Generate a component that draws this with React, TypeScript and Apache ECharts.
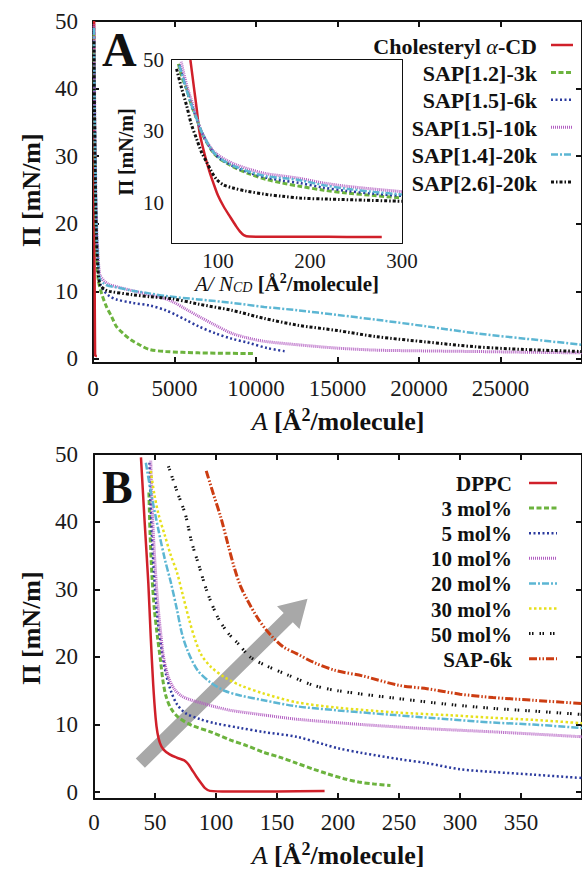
import React, { useEffect, useRef } from 'react';
import * as echarts from 'echarts';

const SERIF = 'Liberation Serif';

// ---------- tick values ----------
const aMainXTicks = [0, 5000, 10000, 15000, 20000, 25000, 30000];
const aMainXLabels = [0, 5000, 10000, 15000, 20000, 25000];
const aMainYTicks = [0, 10, 20, 30, 40, 50];
const insetXTicks = [100, 200, 300];
const insetYTicks = [10, 30, 50];
const bXTicks = [0, 50, 100, 150, 200, 250, 300, 350, 400];
const bXLabels = [0, 50, 100, 150, 200, 250, 300, 350];
const bYTicks = [0, 10, 20, 30, 40, 50];

// ---------- legend names ----------
const aNames = ['Cholesteryl α-CD', 'SAP[1.2]-3k', 'SAP[1.5]-6k', 'SAP[1.5]-10k', 'SAP[1.4]-20k', 'SAP[2.6]-20k'];
const bNames = ['DPPC', '3 mol%', '5 mol%', '10 mol%', '20 mol%', '30 mol%', '50 mol%', 'SAP-6k'];

// ---------- Panel A main: A [Å²/molecule] vs Π ----------
const aCholesteryl = [[70, 50], [74, 42], [77, 36], [80, 29.6], [86, 23], [91, 18.5], [95, 15.5], [100, 12], [106, 9], [113, 6.1], [120, 3.3], [124, 1.9], [128, 0.9], [134, 0.5], [160, 0.45], [200, 0.45], [240, 0.4], [278, 0.4]];
const aSap12_3k = [[55, 48], [90, 38], [130, 28], [180, 20], [240, 15.5], [323, 11.7], [525, 9.7], [830, 7.7], [1133, 6.3], [1436, 4.8], [1838, 3.8], [2343, 2.8], [2848, 2.1], [3454, 1.4], [4465, 1.1], [6485, 0.9], [9920, 0.8]];
const aSap15_6k = [[60, 49], [100, 38], [150, 28], [220, 19], [320, 14], [424, 11.2], [700, 10], [1000, 9.3], [1436, 8.8], [2424, 8.3], [3500, 7.9], [4465, 7.2], [5100, 6.5], [5680, 5.8], [6500, 4.8], [7500, 3.8], [8500, 3.0], [9515, 2.4], [10700, 1.6], [11900, 1.1]];
const aSap15_10k = [[60, 49.5], [100, 39], [150, 29], [220, 20], [320, 15], [424, 12.5], [700, 11.5], [1000, 11], [1436, 10.7], [2424, 10.1], [3454, 9.5], [4200, 9.1], [4860, 8.5], [5600, 7.5], [6485, 6.3], [7500, 5], [8500, 3.8], [9500, 3.1], [10530, 2.6], [12545, 2.1], [15000, 1.6], [17400, 1.3], [20000, 1.2], [23450, 1.1], [26500, 1.0], [30000, 0.9]];
const aSap14_20k = [[60, 49], [100, 38], [150, 28], [220, 19.5], [320, 14], [424, 11.8], [700, 11.1], [1000, 10.8], [1436, 10.6], [2424, 10.1], [3454, 9.7], [4465, 9.3], [6485, 8.8], [8500, 8.3], [10500, 7.7], [12545, 7.2], [15000, 6.5], [17400, 5.8], [20500, 4.8], [23450, 3.8], [26500, 3.0], [30000, 2.1]];
const aSap26_20k = [[55, 47], [90, 37], [140, 27], [200, 19], [300, 13.5], [424, 11], [700, 10.3], [1000, 10], [2424, 9.5], [3500, 9.2], [4860, 8.9], [6500, 8.1], [8500, 7.2], [10500, 6.0], [12545, 5.0], [15000, 4.2], [17400, 3.3], [20500, 2.5], [23450, 1.8], [26500, 1.4], [30000, 1.1]];

// ---------- Panel A inset: A/N_CD vs Π ----------
const inCholesteryl = [[70, 50], [74, 42], [77, 36], [80, 29.6], [86, 23], [91, 18.5], [95, 15.5], [100, 12], [106, 9], [113, 6.1], [120, 3.3], [124, 1.9], [128, 0.9], [134, 0.5], [160, 0.45], [200, 0.45], [240, 0.4], [278, 0.4]];
const inSap12_3k = [[57, 48.9], [61, 45], [66, 41.8], [71, 37.5], [77, 33.4], [82, 29.8], [88, 26.8], [95, 24], [102, 22.3], [110, 21], [120, 19.6], [135, 18], [153, 16.5], [170, 15.5], [189, 14.6], [215, 13.5], [240, 12.7], [270, 12], [300, 11.3]];
const inSap15_6k = [[58, 48.7], [62, 45], [66, 41.6], [71, 37.5], [77, 33.4], [82, 29.9], [88, 26.9], [95, 24.1], [102, 22.4], [110, 21.1], [120, 19.8], [135, 18.3], [153, 17], [170, 16.2], [189, 15.5], [215, 14.2], [240, 13.3], [270, 12.5], [300, 11.9]];
const inSap15_10k = [[60, 49.5], [63, 46], [67, 42], [72, 38], [77, 33.5], [82, 30], [88, 27], [95, 24.5], [102, 23], [110, 21.8], [120, 20.6], [135, 19.3], [153, 18.1], [170, 17.5], [189, 16.8], [215, 15.5], [240, 14.6], [270, 13.8], [300, 13.1]];
const inSap14_20k = [[58, 48.5], [62, 45], [66, 41.5], [71, 37.5], [77, 33.4], [82, 30], [88, 27], [95, 24.2], [102, 22.5], [110, 21.2], [120, 20], [135, 18.6], [153, 17.4], [170, 16.9], [189, 16.3], [215, 14.9], [240, 13.9], [270, 13], [300, 12.3]];
const inSap26_20k = [[55, 47.5], [60, 42.5], [66, 37.1], [71, 32], [77, 27.7], [82, 24.2], [88, 21.2], [93, 18.7], [98.6, 16.5], [106, 15], [116.5, 14.1], [130, 13.3], [153, 12.3], [170, 11.8], [189, 11.3], [220, 11], [260, 10.7], [300, 10.4]];

// ---------- Panel B ----------
const bDPPC = [[38.5, 49.5], [41.5, 40], [44.5, 31], [46.5, 23], [48.5, 16], [50.5, 11], [52, 8.8], [54, 7.3], [57, 6.3], [62, 5.6], [68, 5.1], [74, 4.7], [77, 4.2], [80, 3.4], [84, 2.3], [88, 1.3], [91, 0.6], [95, 0.2], [110, 0.1], [150, 0.12], [189, 0.2]];
const b3mol = [[45, 44.3], [46, 38], [47.5, 32], [49.5, 27], [52, 23], [54.5, 19.5], [56.5, 16.5], [59, 14.2], [63, 12.4], [69, 11.1], [80, 9.9], [96, 8.9], [112, 7.7], [125, 6.9], [139, 5.9], [152, 5.2], [166, 4.3], [180, 3.4], [190, 2.8], [205, 2.0], [217, 1.5], [230, 1.2], [243, 1.0]];
const b5mol = [[45.5, 48.7], [46.5, 42], [48, 36], [50, 30], [52.5, 25], [55.5, 21], [59, 17.5], [63, 15], [68, 13], [75, 11.7], [87, 10.8], [99, 10.2], [120, 9.5], [139, 8.9], [166, 8.2], [190, 7.0], [200, 6.5], [220, 5.8], [250, 4.9], [273, 4.3], [300, 3.4], [327, 3.0], [360, 2.6], [400, 2.1]];
const b10mol = [[46.5, 49], [47.5, 43], [49, 37], [51, 31], [53, 26.5], [55, 23], [57, 20], [61, 17], [66, 15.2], [72, 14.2], [80, 13.6], [90, 13.1], [100, 12.6], [112, 12.1], [140, 11.4], [166, 10.8], [220, 10.0], [273, 9.4], [330, 8.9], [400, 8.2]];
const b20mol = [[42.5, 48.7], [47, 44], [53, 38.6], [58, 34.5], [63, 31], [68, 27], [72, 23.5], [77, 20.8], [85, 18], [95, 16.3], [107, 15], [120, 14.3], [139, 13.6], [166, 12.7], [200, 12.1], [247, 11.4], [290, 10.8], [327, 10.3], [360, 10.0], [400, 9.5]];
const b30mol = [[46.5, 47.5], [49.5, 44], [53, 41], [58, 38], [63, 35], [68, 32.5], [73, 29], [78, 25.5], [83, 22.5], [88, 20.3], [96, 18.5], [107, 17], [120, 15.8], [139, 14.6], [166, 13.3], [200, 12.5], [247, 11.8], [290, 11.4], [327, 11.0], [360, 10.7], [400, 10.2]];
const b50mol = [[61, 48.2], [68, 44.5], [75, 41], [80, 37], [85.5, 33.8], [93, 29.5], [101.6, 25.8], [110, 23.5], [118, 22], [128, 20], [140, 18.8], [158, 17.4], [180, 15.8], [200, 15], [247, 13.9], [290, 13.0], [327, 12.4], [360, 12.0], [400, 11.5]];
const bSap6k = [[92, 47.5], [98, 44], [104, 40.6], [110, 36.5], [115, 33.2], [120, 30.5], [126, 28.3], [134, 25.8], [143, 23.6], [155, 21.5], [166, 20.5], [180, 19.2], [198, 18], [220, 17.2], [250, 15.8], [273, 15.3], [300, 14.5], [327, 14.0], [360, 13.6], [400, 13.1]];

// gray arrow (data coordinates of panel B): tail x, tail y, head x, head y
const bArrow = [[38, 4.3, 175, 28.6]];

// ---------- styles ----------
const RED = '#d0202a';
const GREEN = '#6cb33e';
const BLUE = '#2b3a9e';
const PURPLE = '#b35fc2';
const CYAN = '#5cb6d3';
const YELLOW = '#e6e01c';
const BLACK = '#111111';
const ORANGE = '#cc3d12';

const aStyles = [
  { color: RED, width: 2.5, type: 'solid' },
  { color: GREEN, width: 3, type: [5, 2.5] },
  { color: BLUE, width: 2.5, type: [2, 2.5] },
  { color: PURPLE, width: 3, type: [1, 1] },
  { color: CYAN, width: 2.5, type: [7, 2, 2, 2] },
  { color: BLACK, width: 3, type: [3, 2, 1.5, 2] },
];
const bStyles = [
  { color: RED, width: 2.5, type: 'solid' },
  { color: GREEN, width: 3, type: [5, 2.5] },
  { color: BLUE, width: 2.5, type: [2, 2.5] },
  { color: PURPLE, width: 3, type: [1, 1] },
  { color: CYAN, width: 2.5, type: [7, 2, 2, 2] },
  { color: YELLOW, width: 2.5, type: [2.5, 2.5] },
  { color: BLACK, width: 3, type: [1.5, 1.5, 1.5, 6] },
  { color: ORANGE, width: 3, type: [8, 2, 1.5, 2, 1.5, 2] },
];

const aMainData = [aCholesteryl, aSap12_3k, aSap15_6k, aSap15_10k, aSap14_20k, aSap26_20k];
const aInsetData = [inCholesteryl, inSap12_3k, inSap15_6k, inSap15_10k, inSap14_20k, inSap26_20k];
const bData = [bDPPC, b3mol, b5mol, b10mol, b20mol, b30mol, b50mol, bSap6k];

function frameAxis(gridIndex: number, position: string, min: number, max: number, ticks: number[], labels: number[] | null, margin = 14, fontSize = 23) {
  return {
    type: 'value',
    gridIndex,
    position,
    min,
    max,
    axisLine: { show: true, onZero: false, lineStyle: { color: '#111', width: 2 } },
    axisTick: { show: true, inside: true, length: 6, customValues: ticks, lineStyle: { color: '#111', width: 2 } },
    axisLabel: {
      show: !!labels,
      customValues: labels || ticks,
      margin,
      color: '#1a1a1a',
      fontFamily: SERIF,
      fontWeight: 'normal',
      fontSize,
      formatter: (v: number) => String(v),
    },
    splitLine: { show: false },
  };
}

function lineSeries(name: string, data: number[][], style: any, axisIdx: number) {
  return {
    type: 'line',
    name,
    xAxisIndex: axisIdx,
    yAxisIndex: axisIdx,
    data,
    showSymbol: false,
    symbol: 'none',
    smooth: 0.3,
    silent: true,
    z: 3,
    lineStyle: { color: style.color, width: style.width, type: style.type },
  };
}

function titleRich(size: number) {
  return {
    i: { fontFamily: SERIF, fontStyle: 'italic', fontWeight: 'normal', fontSize: size, fill: '#111', lineHeight: size * 1.1, verticalAlign: 'bottom' },
    b: { fontFamily: SERIF, fontWeight: 'bold', fontSize: size, fill: '#111', lineHeight: size * 1.1, verticalAlign: 'bottom' },
    sup: { fontFamily: SERIF, fontWeight: 'bold', fontSize: Math.round(size * 0.68), fill: '#111', verticalAlign: 'top', lineHeight: size * 0.8 },
    sub: { fontFamily: SERIF, fontStyle: 'italic', fontWeight: 'normal', fontSize: Math.round(size * 0.68), fill: '#111', verticalAlign: 'bottom', lineHeight: size * 0.8 },
  };
}

function textEl(x: number, y: number, text: string, size: number, opts: any = {}) {
  return {
    type: 'text',
    x,
    y,
    rotation: opts.rotation || 0,
    silent: true,
    z: 10,
    style: {
      text,
      rich: titleRich(size),
      fontFamily: SERIF,
      fontSize: size,
      fontWeight: opts.weight || 'bold',
      fill: '#111',
      align: opts.align || 'center',
      textAlign: opts.align || 'center',
      verticalAlign: 'middle',
      textVerticalAlign: 'middle',
    },
  };
}

function legendGraphics(names: string[], styles: any[], textRight: number, lineX1: number, lineX2: number, y0: number, step: number, size: number) {
  const els: any[] = [];
  names.forEach((name, i) => {
    const y = y0 + i * step;
    const label = name === 'Cholesteryl α-CD' ? '{b|Cholesteryl }{i|α}{b|-CD}' : '{b|' + name + '}';
    els.push(textEl(textRight, y, label, size, { align: 'right' }));
    els.push({
      type: 'line',
      silent: true,
      z: 10,
      shape: { x1: lineX1, y1: y, x2: lineX2, y2: y },
      style: {
        stroke: styles[i].color,
        lineWidth: styles[i].width,
        lineDash: styles[i].type === 'solid' ? null : styles[i].type,
      },
    });
  });
  return els;
}

export default function App() {
  const ref = useRef<HTMLDivElement>(null);

  useEffect(() => {
    if (!ref.current) return;
    const chart = echarts.init(ref.current, undefined, { renderer: 'svg' });

    const series: any[] = [];
    aMainData.forEach((d, i) => series.push(lineSeries(aNames[i], d, aStyles[i], 0)));
    aInsetData.forEach((d, i) => series.push(lineSeries(aNames[i] + ' (inset)', d, aStyles[i], 2)));
    bData.forEach((d, i) => series.push(lineSeries(bNames[i], d, bStyles[i], 4)));
    series.push({
      type: 'custom',
      name: 'arrow',
      xAxisIndex: 4,
      yAxisIndex: 4,
      z: 1,
      silent: true,
      data: bArrow,
      encode: { x: [0, 2], y: [1, 3] },
      renderItem: (params: any, api: any) => {
        const p0 = api.coord([api.value(0), api.value(1)]);
        const p1 = api.coord([api.value(2), api.value(3)]);
        const dx = p1[0] - p0[0];
        const dy = p1[1] - p0[1];
        const len = Math.hypot(dx, dy);
        const ux = dx / len, uy = dy / len;
        const nx = -uy, ny = ux;
        const hw = 6.5, headLen = 27, headHw = 16;
        const bx = p1[0] - ux * headLen, by = p1[1] - uy * headLen;
        const pts = [
          [p0[0] + nx * hw, p0[1] + ny * hw],
          [bx + nx * hw, by + ny * hw],
          [bx + nx * headHw, by + ny * headHw],
          [p1[0], p1[1]],
          [bx - nx * headHw, by - ny * headHw],
          [bx - nx * hw, by - ny * hw],
          [p0[0] - nx * hw, p0[1] - ny * hw],
        ];
        return { type: 'polygon', shape: { points: pts }, style: { fill: '#a8a8a8' } };
      },
    });

    const graphic: any[] = [
      // panel letters
      textEl(102, 47, '{b|A}', 48, { align: 'left' }),
      textEl(102, 485, '{b|B}', 46, { align: 'left' }),
      // axis titles panel A
      textEl(30, 190, '{b|Π [mN/m]}', 26, { rotation: Math.PI / 2 }),
      textEl(338, 420, '{i|A }{b|[Å}{sup|2}{b|/molecule]}', 26),
      // inset titles
      textEl(125, 152, '{b|Π [mN/m]}', 20, { rotation: Math.PI / 2 }),
      textEl(287, 283, '{i|A/ N}{sub|CD}{b| [Å}{sup|2}{b|/molecule]}', 21),
      // axis titles panel B
      textEl(30, 628, '{b|Π [mN/m]}', 26, { rotation: Math.PI / 2 }),
      textEl(338, 854, '{i|A }{b|[Å}{sup|2}{b|/molecule]}', 26),
      ...legendGraphics(aNames, aStyles, 537, 551, 573, 45, 27.4, 22),
      ...legendGraphics(bNames, bStyles, 512, 529, 557, 483, 25.1, 21),
    ];

    chart.setOption({
      animation: false,
      backgroundColor: '#ffffff',
      grid: [
        { left: 93, top: 21, width: 495, height: 342, show: false },
        { left: 172, top: 60, width: 230, height: 183, show: true, backgroundColor: '#ffffff', borderWidth: 0, z: 2 },
        { left: 94, top: 454, width: 494, height: 345, show: false },
      ],
      xAxis: [
        frameAxis(0, 'bottom', 0, 30000, aMainXTicks, aMainXLabels, 14, 23),
        frameAxis(0, 'top', 0, 30000, aMainXTicks, null),
        frameAxis(1, 'bottom', 50, 300, insetXTicks, insetXTicks, 7, 21),
        frameAxis(1, 'top', 50, 300, insetXTicks, null),
        frameAxis(2, 'bottom', 0, 400, bXTicks, bXLabels, 12, 23),
        frameAxis(2, 'top', 0, 400, bXTicks, null),
      ],
      yAxis: [
        frameAxis(0, 'left', -0.6, 50, aMainYTicks, aMainYTicks, 15, 23),
        frameAxis(0, 'right', -0.6, 50, aMainYTicks, null),
        frameAxis(1, 'left', -1.3, 50, insetYTicks, insetYTicks, 8, 21),
        frameAxis(1, 'right', -1.3, 50, insetYTicks, null),
        frameAxis(2, 'left', -1, 50, bYTicks, bYTicks, 16, 23),
        frameAxis(2, 'right', -1, 50, bYTicks, null),
      ],
      series,
      graphic,
    });

    return () => chart.dispose();
  }, []);

  return <div ref={ref} style={{ position: 'fixed', left: 0, top: 0, width: 582, height: 870, background: '#fff' }} />;
}
